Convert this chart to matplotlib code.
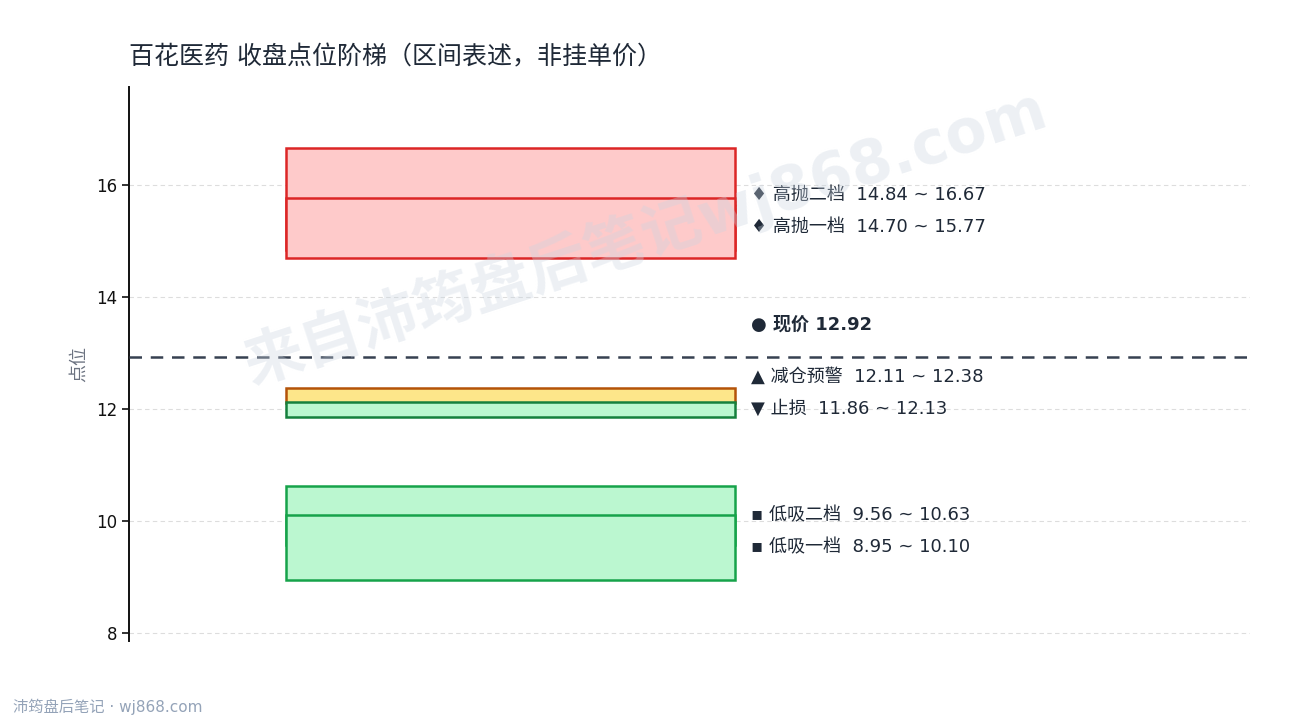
#!/usr/bin/env python3

import matplotlib
matplotlib.use('Agg')
import matplotlib.pyplot as plt
from matplotlib.patches import Rectangle

plt.rcParams['font.family'] = ['DejaVu Sans', 'Noto Sans CJK SC']
plt.rcParams['axes.unicode_minus'] = False

TITLE = '百花医药 收盘点位阶梯（区间表述，非挂单价）'
Y_LABEL = '点位'
FOOTER = '沛筠盘后笔记 · wj868.com'
WATERMARK = '来自沛筠盘后笔记wj868.com'

# zones: name, low, high (drawn in this order, later ones on top)
zone_names = ['高抛二档', '高抛一档', '减仓预警', '止损', '低吸二档', '低吸一档']
zone_low = [14.84, 14.70, 12.11, 11.86, 9.56, 8.95]
zone_high = [16.67, 15.77, 12.38, 12.13, 10.63, 10.10]
zone_marks = ['♦', '♦', '▲', '▼', '▪', '▪']

current_price = 12.92
y_ticks = [8, 10, 12, 14, 16]

fill_colors = ['#fecaca', '#fecaca', '#fde68a', '#bbf7d0', '#bbf7d0', '#bbf7d0']
edge_colors = ['#dc2626', '#dc2626', '#b45309', '#15803d', '#16a34a', '#16a34a']
TEXT = '#1f2937'


def spread(ys, gap):
    # push paired labels apart around their mean
    out = list(ys)
    for i in range(0, len(out), 2):
        a, b = out[i], out[i + 1]
        if abs(a - b) < gap:
            m = (a + b) / 2
            out[i], out[i + 1] = m + gap / 2, m - gap / 2
    return out


def main():
    fig = plt.figure(figsize=(12.9, 7.2), dpi=100)
    ax = fig.add_axes([0.1, 0.11, 0.869, 0.769])

    x0, w = 0.14, 0.401
    for i in range(len(zone_names)):
        ax.add_patch(Rectangle((x0, zone_low[i]), w, zone_high[i] - zone_low[i],
                               facecolor=fill_colors[i], edgecolor=edge_colors[i],
                               linewidth=1.8, zorder=3 + i))

    ax.axhline(current_price, color='#374151', linestyle=(0, (5, 3.5)), linewidth=1.8,
               zorder=10, clip_on=False)

    centers = [(lo + hi) / 2 for lo, hi in zip(zone_low, zone_high)]
    label_y = spread(centers, 0.57)
    label_y[0] += 0.05
    label_y[1] += 0.05
    # keep the warning / stop pair clear of the price line
    label_y[2] += 0.17
    label_y[3] += 0.17
    tx = 0.555
    for i, name in enumerate(zone_names):
        ax.text(tx, label_y[i], f'{zone_marks[i]} {name}  {zone_low[i]:.2f} ~ {zone_high[i]:.2f}',
                fontsize=13, color=TEXT, va='center', ha='left', zorder=12)
    ax.text(tx, current_price + 0.58, f'● 现价 {current_price:.2f}', fontsize=13,
            fontweight='bold', color=TEXT, va='center', ha='left', zorder=12)

    ax.set_xlim(0, 1)
    ax.set_ylim(7.857, 17.75)
    ax.set_yticks(y_ticks)
    ax.set_xticks([])
    ax.tick_params(axis='y', labelsize=12, length=5, width=1.2, colors='#111111')
    for s in ['top', 'right', 'bottom']:
        ax.spines[s].set_visible(False)
    ax.spines['left'].set_linewidth(1.4)
    ax.spines['left'].set_color('#111111')
    ax.grid(axis='y', color='#dddddd', linestyle=(0, (4, 3)), linewidth=0.8)
    ax.set_axisbelow(True)
    ax.set_ylabel(Y_LABEL, fontsize=13, color='#6b7280', labelpad=6)

    fig.text(0.1, 0.92, TITLE, fontsize=18, color=TEXT, ha='left', va='center')
    fig.text(0.01, 0.018, FOOTER, fontsize=11, color='#94a3b8', ha='left', va='center')
    fig.text(0.5, 0.672, WATERMARK, fontsize=43, fontweight='bold', color='#cbd5e1',
             alpha=0.35, rotation=18, ha='center', va='center', zorder=20)

    fig.savefig('out.png', dpi=100, facecolor='white')


if __name__ == "__main__":
    main()
